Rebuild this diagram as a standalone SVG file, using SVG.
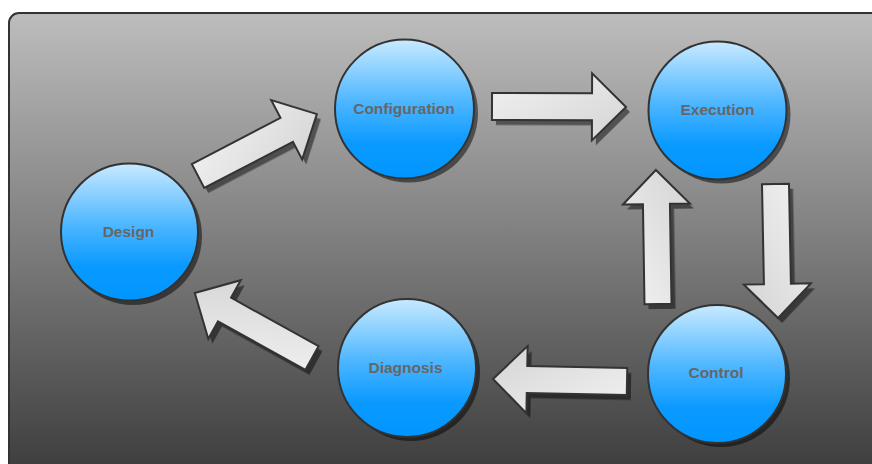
<svg xmlns="http://www.w3.org/2000/svg" width="872" height="464" viewBox="0 0 872 464">
  <defs>
    <linearGradient id="bgGrad" x1="0" y1="0" x2="0" y2="1">
      <stop offset="0" stop-color="#bdbdbd"/>
      <stop offset="0.5" stop-color="#7c7c7c"/>
      <stop offset="1" stop-color="#3a3a3a"/>
    </linearGradient>
    <linearGradient id="nodeGrad" x1="0" y1="0" x2="0" y2="1">
      <stop offset="0" stop-color="#c8eaff"/>
      <stop offset="0.45" stop-color="#4db6ff"/>
      <stop offset="0.75" stop-color="#0a9aff"/>
      <stop offset="1" stop-color="#0096ff"/>
    </linearGradient>
    <linearGradient id="arrowGrad" x1="0" y1="0" x2="1" y2="1">
      <stop offset="0" stop-color="#f2f2f2"/>
      <stop offset="1" stop-color="#d4d4d4"/>
    </linearGradient>
    <filter id="soft" x="-10%" y="-10%" width="120%" height="120%">
      <feGaussianBlur stdDeviation="0.7"/>
    </filter>
    <!-- block arrow pointing along +x, tail centre at origin, length 134 -->
    <path id="blockArrow" d="M0,-13.5 L100,-13.5 L100,-33.5 L134,0 L100,33.5 L100,13.5 L0,13.5 Z"/>
  </defs>
  <style>
    .panel { fill: url(#bgGrad); stroke: #333; stroke-width: 2; }
    .node-shadow { fill: #000; fill-opacity: 0.5; filter: url(#soft); }
    .node { fill: url(#nodeGrad); stroke: #333; stroke-width: 2; }
    .label { font-family: "Liberation Sans", Arial, sans-serif; font-weight: bold; font-size: 15.5px; fill: #666; text-anchor: middle; }
    .arrow-shadow { fill: #000; fill-opacity: 0.48; filter: url(#soft); }
    .arrow { fill: url(#arrowGrad); stroke: #333; stroke-width: 2; stroke-linejoin: miter; }
  </style>

  <!-- background panel -->
  <rect class="panel" x="9" y="13" width="880" height="470" rx="10" ry="10"/>

  <!-- connectors -->
  <g id="connectors">
    <g transform="translate(4,5)">
      <use href="#blockArrow" class="arrow-shadow" transform="translate(198,176) rotate(-27.5)"/>
      <use href="#blockArrow" class="arrow-shadow" transform="translate(492,106.5) rotate(0.2)"/>
      <use href="#blockArrow" class="arrow-shadow" transform="translate(775.5,184) rotate(88.9)"/>
      <use href="#blockArrow" class="arrow-shadow" transform="translate(658,304) rotate(-90.9)"/>
      <use href="#blockArrow" class="arrow-shadow" transform="translate(627,381.5) rotate(181.1)"/>
      <use href="#blockArrow" class="arrow-shadow" transform="translate(312,358) rotate(209)"/>
    </g>
    <use id="design-to-configuration" href="#blockArrow" class="arrow" transform="translate(198,176) rotate(-27.5)"/>
    <use id="configuration-to-execution" href="#blockArrow" class="arrow" transform="translate(492,106.5) rotate(0.2)"/>
    <use id="execution-to-control" href="#blockArrow" class="arrow" transform="translate(775.5,184) rotate(88.9)"/>
    <use id="control-to-execution" href="#blockArrow" class="arrow" transform="translate(658,304) rotate(-90.9)"/>
    <use id="control-to-diagnosis" href="#blockArrow" class="arrow" transform="translate(627,381.5) rotate(181.1)"/>
    <use id="diagnosis-to-design" href="#blockArrow" class="arrow" transform="translate(312,358) rotate(209)"/>
  </g>

  <!-- nodes -->
  <g id="design">
    <circle class="node-shadow" cx="133" cy="236" r="69"/>
    <circle class="node" cx="129.5" cy="232" r="68.5"/>
    <text class="label" x="128.5" y="237">Design</text>
  </g>
  <g id="configuration">
    <circle class="node-shadow" cx="408.5" cy="113" r="69.5"/>
    <circle class="node" cx="404.5" cy="109" r="69.5"/>
    <text class="label" x="404" y="113.5">Configuration</text>
  </g>
  <g id="execution">
    <circle class="node-shadow" cx="721.5" cy="114.5" r="69"/>
    <circle class="node" cx="717.5" cy="110.5" r="69"/>
    <text class="label" x="717.5" y="114.5">Execution</text>
  </g>
  <g id="control">
    <circle class="node-shadow" cx="721" cy="378" r="69"/>
    <circle class="node" cx="717" cy="374" r="69"/>
    <text class="label" x="716" y="378">Control</text>
  </g>
  <g id="diagnosis">
    <circle class="node-shadow" cx="411" cy="372" r="69"/>
    <circle class="node" cx="407" cy="368" r="69"/>
    <text class="label" x="405.5" y="372.5">Diagnosis</text>
  </g>
</svg>
